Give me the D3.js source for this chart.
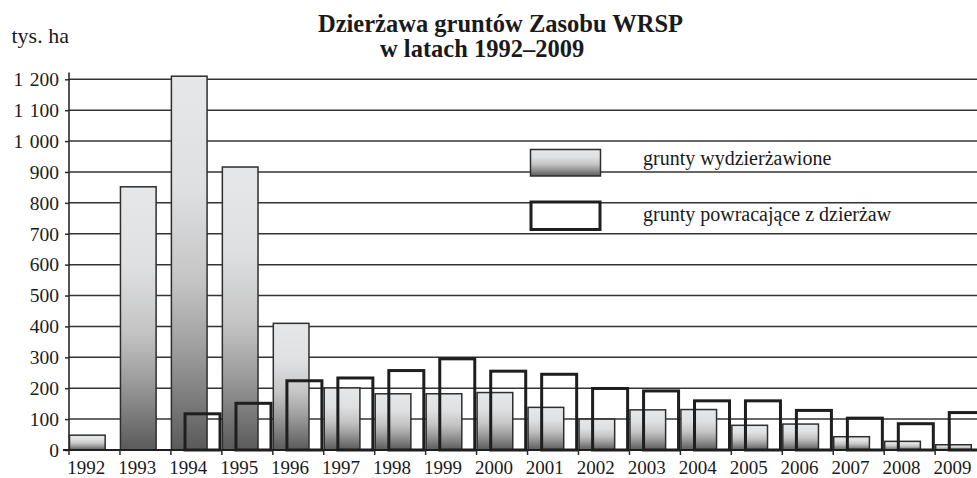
<!DOCTYPE html>
<html>
<head>
<meta charset="utf-8">
<script src="https://cdn.jsdelivr.net/npm/d3@7"></script>
<style>
  html, body { margin: 0; padding: 0; background: #fff; }
  svg { display: block; font-family: "Liberation Serif", "Times New Roman", serif; }
  svg text { font-family: "Liberation Serif", "Times New Roman", serif; }
</style>
</head>
<body>
<svg id="chart" width="977" height="478"></svg>
<script>
const years = ["1992","1993","1994","1995","1996","1997","1998","1999","2000","2001","2002","2003","2004","2005","2006","2007","2008","2009"];
const leased = [48, 852, 1210, 916, 410, 201, 182, 182, 186, 138, 100, 130, 131, 80, 84, 43, 28, 17];
const returned = [0, 0, 122, 156, 229, 238, 262, 300, 260, 250, 204, 196, 164, 164, 133, 108, 90, 126];
const yTicks = [0, 100, 200, 300, 400, 500, 600, 700, 800, 900, 1000, 1100, 1200];
const seriesNames = ["grunty wydzierżawione", "grunty powracające z dzierżaw"];
const titleLines = ["Dzierżawa gruntów Zasobu WRSP", "w latach 1992–2009"];
const unitLabel = "tys. ha";

const svg = d3.select("#chart");
const x0 = 69, bw = 50.95;
const x = d3.scaleBand().domain(years).range([x0, x0 + bw * years.length]).padding(0);
const y = d3.scaleLinear().domain([0, 1200]).range([450, 79.3]);
const fmt = v => v >= 1000 ? d3.format(",")(v).replace(",", "\u2004") : String(v);

// gradient
const defs = svg.append("defs");
const grad = defs.append("linearGradient").attr("id", "barGrad")
  .attr("x1", 0).attr("y1", 0).attr("x2", 0).attr("y2", 1);
[[0, "#e6e7e9"], [0.3, "#dfe0e2"], [0.55, "#c4c4c4"], [0.72, "#a0a0a0"], [1, "#5a5a5a"]]
  .forEach(([o, c]) => grad.append("stop").attr("offset", o).attr("stop-color", c));

// gridlines
svg.append("g").selectAll("line").data(yTicks.filter(d => d > 0)).join("line")
  .attr("x1", x0).attr("x2", 977)
  .attr("y1", d => y(d)).attr("y2", d => y(d))
  .attr("stroke", "#333").attr("stroke-width", 1.5);

// filled bars
svg.append("g").selectAll("rect").data(years).join("rect")
  .attr("x", d => x(d) + 0.5)
  .attr("width", bw * 0.7)
  .attr("y", (d, i) => y(leased[i]))
  .attr("height", (d, i) => y(0) - y(leased[i]))
  .attr("fill", "url(#barGrad)")
  .attr("stroke", "#2e2e2e").attr("stroke-width", 1.5);

// outline bars
svg.append("g").selectAll("rect").data(years.filter((d, i) => returned[i] > 0)).join("rect")
  .attr("x", d => x(d) + bw * 0.277)
  .attr("width", bw * 0.687)
  .attr("y", d => y(returned[years.indexOf(d)]) + 1.5)
  .attr("height", d => y(0) - y(returned[years.indexOf(d)]) - 1.5)
  .attr("fill", "none")
  .attr("stroke", "#1e1e1e").attr("stroke-width", 3);

// y axis
const yAxis = d3.axisLeft(y).tickValues(yTicks).tickSize(4).tickPadding(6).tickFormat(fmt);
const gy = svg.append("g").attr("transform", `translate(${x0},0)`).call(yAxis)
  .attr("font-family", null).attr("font-size", null);
gy.select(".domain").remove();
gy.selectAll(".tick line").attr("stroke", "#2a2a2a").attr("stroke-width", 1.5);
gy.selectAll(".tick text").attr("font-size", 19.5).attr("fill", "#1a1a1a");
svg.append("line").attr("x1", x0).attr("x2", x0).attr("y1", y(1222)).attr("y2", y(0))
  .attr("stroke", "#2a2a2a").attr("stroke-width", 1.6);

// x axis
svg.append("line").attr("x1", x0 - 6).attr("x2", 977).attr("y1", y(0)).attr("y2", y(0))
  .attr("stroke", "#1e1e1e").attr("stroke-width", 2.2);
const xAxis = d3.axisBottom(x).tickSize(0).tickPadding(9).tickFormat(d => d);
const gx = svg.append("g").attr("transform", `translate(0,${y(0)})`).call(xAxis)
  .attr("font-family", null).attr("font-size", null);
gx.select(".domain").remove();
gx.selectAll(".tick").attr("transform", d => `translate(${x(d) + 17.3},0)`);
gx.selectAll(".tick text").attr("font-size", 19).attr("fill", "#1a1a1a")
  .attr("dy", null).attr("y", 23.5);
svg.append("g").selectAll("line").data(years).join("line")
  .attr("x1", d => x(d)).attr("x2", d => x(d))
  .attr("y1", y(0)).attr("y2", y(0) + 5)
  .attr("stroke", "#2a2a2a").attr("stroke-width", 1.5);

// title
svg.append("text").attr("x", 318).attr("y", 31.5).attr("font-size", 24.5)
  .attr("font-weight", "bold").attr("fill", "#1a1a1a").text(titleLines[0]);
svg.append("text").attr("x", 380).attr("y", 57).attr("font-size", 24.5)
  .attr("font-weight", "bold").attr("fill", "#1a1a1a").text(titleLines[1]);

// unit label
svg.append("text").attr("x", 11.5).attr("y", 42.7).attr("font-size", 22)
  .attr("fill", "#1a1a1a").text(unitLabel);

// legend
const lg = svg.append("g");
lg.append("rect").attr("x", 530.5).attr("y", 149.5).attr("width", 70).attr("height", 26.5)
  .attr("fill", "url(#barGrad)").attr("stroke", "#2e2e2e").attr("stroke-width", 1.5);
lg.append("rect").attr("x", 531).attr("y", 202).attr("width", 69).attr("height", 27.5)
  .attr("fill", "#fff").attr("stroke", "#1e1e1e").attr("stroke-width", 3);
lg.append("text").attr("x", 643).attr("y", 165).attr("font-size", 20)
  .attr("fill", "#1a1a1a").text(seriesNames[0]);
lg.append("text").attr("x", 643).attr("y", 220.5).attr("font-size", 20)
  .attr("fill", "#1a1a1a").text(seriesNames[1]);
</script>
</body>
</html>
